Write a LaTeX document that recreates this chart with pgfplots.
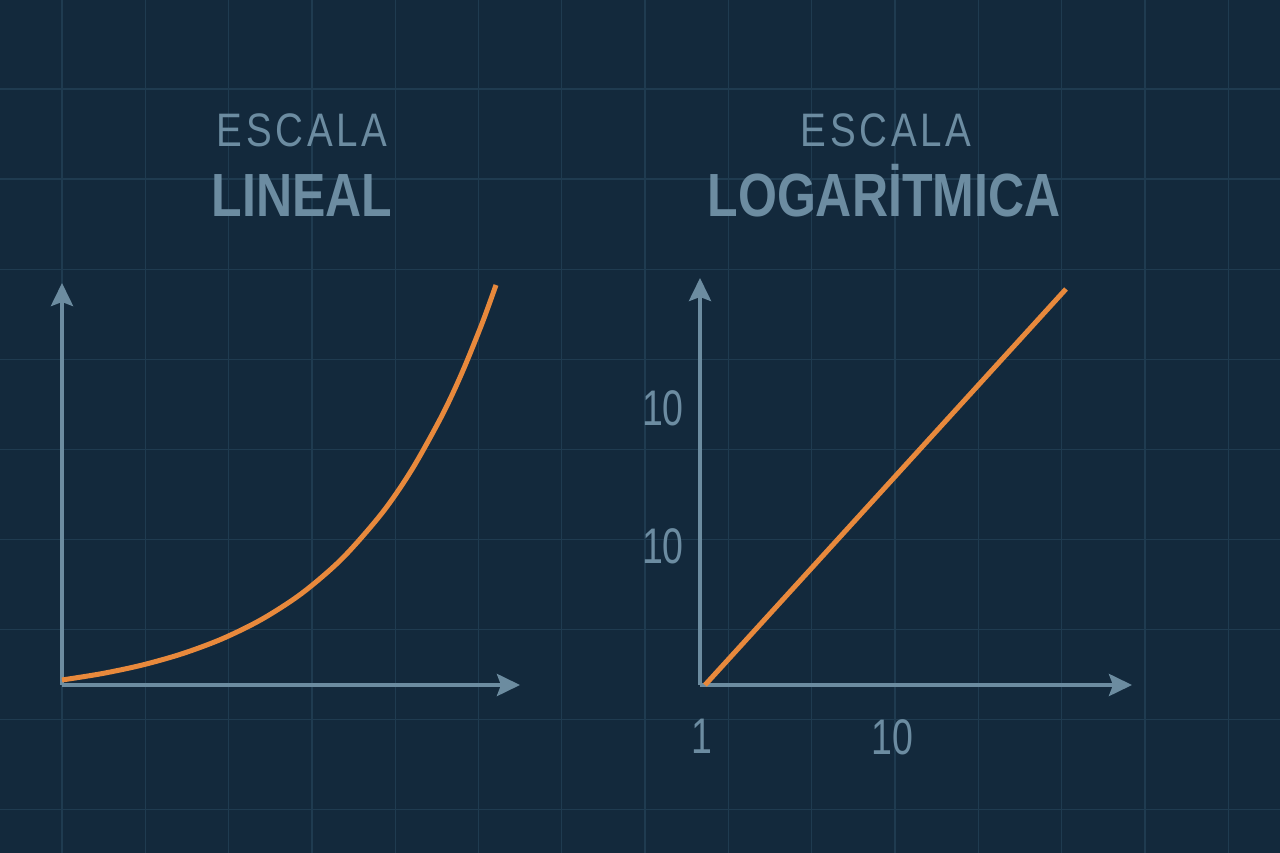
\documentclass[border=0pt]{standalone}
\usepackage{fontspec}
\setmainfont{Liberation Sans}
\newfontfamily\titlesmall[FakeStretch=0.82,LetterSpace=8]{Liberation Sans}
\newfontfamily\titlebig[FakeStretch=0.82]{Liberation Sans}
\newfontfamily\numfont[FakeStretch=0.75]{Liberation Sans}
\usepackage{pgfplots}
\pgfplotsset{compat=1.18}
\usetikzlibrary{arrows.meta}
\definecolor{bg}{HTML}{13293C}
\definecolor{gridc}{HTML}{1F3B50}
\definecolor{axc}{HTML}{6C8CA0}
\definecolor{txt}{HTML}{6C8CA1}
\definecolor{curve}{HTML}{E8893C}
\begin{document}
\begin{tikzpicture}
% background with its grid
\begin{axis}[
    at={(0pt,0pt)}, anchor=south west,
    width=1280pt, height=853pt, scale only axis,
    xmin=0, xmax=1280, ymin=0, ymax=853, y dir=reverse,
    axis background/.style={fill=bg},
    axis line style={draw=none},
    xtick=\empty, ytick=\empty,
]
\addplot[ycomb, gridc, line width=1.3pt, mark=none] coordinates {
    (62,853) (145.3,853) (228.6,853) (311.9,853) (395.2,853) (478.5,853)
    (561.8,853) (645.1,853) (728.4,853) (811.7,853) (895,853) (978.3,853)
    (1061.6,853) (1144.9,853) (1228.2,853)
};
\addplot[xcomb, gridc, line width=1.3pt, mark=none] coordinates {
    (1280,89) (1280,179.1) (1280,269.2) (1280,359.3) (1280,449.4)
    (1280,539.5) (1280,629.6) (1280,719.7) (1280,809.8)
};
\end{axis}

% titles
\node[anchor=base, text=txt, font=\titlesmall\fontsize{47}{50}\selectfont] at (302pt,706pt) {ESCALA};
\node[anchor=base, text=txt, font=\titlebig\bfseries\fontsize{61}{64}\selectfont] at (302pt,636pt) {LINEAL};
\node[anchor=base, text=txt, font=\titlesmall\fontsize{47}{50}\selectfont] at (886pt,706pt) {ESCALA};
\node[anchor=base, text=txt, font=\titlebig\bfseries\fontsize{61}{64}\selectfont] at (884pt,636pt) {LOGARİTMICA};

% linear scale
\begin{axis}[
    at={(62pt,168pt)}, anchor=south west,
    width=458pt, height=402pt, scale only axis,
    xmin=0, xmax=458, ymin=0, ymax=402,
    axis lines=left,
    axis line style={draw=axc, line width=4pt, -{Stealth[length=23pt,width=22pt,inset=4pt]}},
    xtick=\empty, ytick=\empty,
    clip=false,
]
\addplot[curve, line width=5pt, smooth] coordinates {
    (0,5) (40,11.4) (80,19.9) (120,31.2) (160,46.1) (200,65.8) (240,91.8)
    (280,126.3) (320,171.9) (350,215.6) (380,269.5) (400,312.2) (420,361.4) (434,400)
};
\end{axis}

% logarithmic scale
\begin{axis}[
    at={(700pt,168pt)}, anchor=south west,
    width=432pt, height=407pt, scale only axis,
    xmin=0, xmax=432, ymin=0, ymax=407,
    axis lines=left,
    axis line style={draw=axc, line width=4pt, -{Stealth[length=23pt,width=22pt,inset=4pt]}},
    xtick={2,192}, xticklabels={1,10},
    ytick={139,277}, yticklabels={10,10},
    major tick length=0pt,
    tick label style={text=txt, font=\numfont\fontsize{50}{52}\selectfont, inner sep=0pt},
    xticklabel style={anchor=north, yshift=-34pt},
    yticklabel style={anchor=east, xshift=-16pt},
    clip=false,
]
\addplot[curve, line width=5pt] coordinates {(5,0) (366,396)};
\end{axis}
\pgfresetboundingbox
\useasboundingbox (0pt,0pt) rectangle (1280pt,853pt);
\end{tikzpicture}
\end{document}
